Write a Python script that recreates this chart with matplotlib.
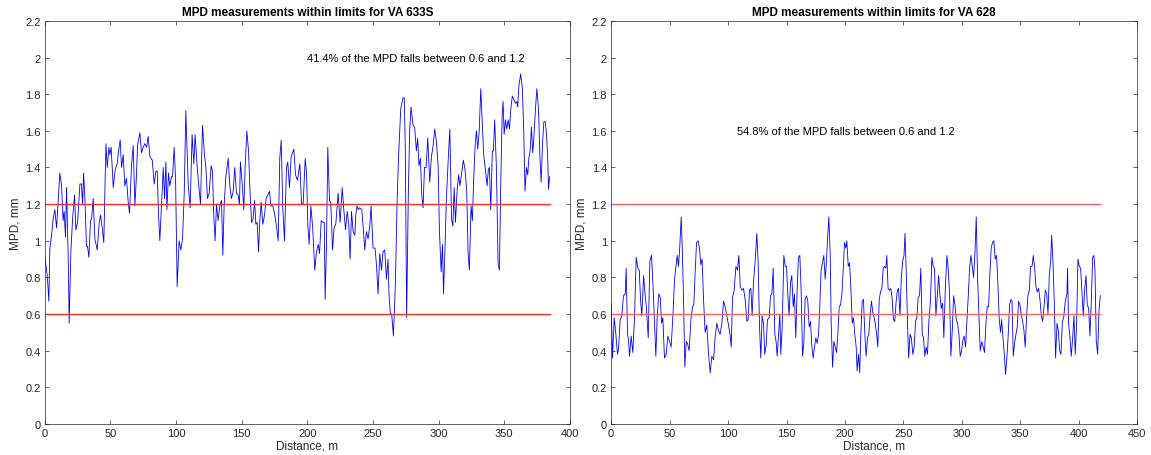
# -*- coding: utf-8 -*-

import matplotlib
matplotlib.use('Agg')
import matplotlib.pyplot as plt

# VA 633S: distance (m) and MPD (mm)
dist_633 = [0, 1.8, 3.0, 3.8, 5.1, 6.3, 7.6, 8.9, 10.2, 11.4, 12.7, 13.9, 14.7, 15.7, 16.5, 17.8, 18.5, 19.8,
            21.1, 22.6, 23.6, 24.9, 26.7, 27.9, 28.7, 29.5, 30.5, 31.7, 32.5, 33.5, 34.8, 35.6, 36.8, 38.1,
            39.9, 41.4, 42.4, 43.7, 44.9, 46.5, 47.5, 48.8, 49.5, 50.5, 52.1, 53.6, 55.1, 56.1, 57.4, 58.4,
            59.7, 60.9, 62.2, 63.5, 64.5, 66.0, 67.3, 68.6, 69.8, 70.6, 72.4, 73.6, 74.9, 76.2, 77.5, 78.7,
            80.0, 81.8, 83.3, 84.6, 85.6, 86.6, 87.6, 89.1, 90.2, 91.2, 92.2, 93.0, 94.2, 95.2, 96.5, 97.3,
            98.5, 99.6, 100.8, 102.3, 103.6, 104.9, 106.2, 107.4, 109.2, 110.7, 112.2, 113.5, 114.5, 116.1,
            117.3, 118.6, 120.1, 121.6, 122.7, 123.9, 125.2, 126.7, 127.7, 128.7, 129.7, 130.8, 132.0, 133.3,
            134.6, 135.6, 136.6, 137.9, 139.7, 140.9, 142.2, 143.5, 144.7, 146.0, 147.2, 148.3, 149.0, 150.4,
            151.6, 152.6, 153.9, 155.2, 156.2, 157.5, 158.7, 159.8, 160.8, 161.8, 162.8, 163.8, 164.8, 166.1,
            167.4, 168.6, 169.9, 171.2, 172.2, 173.7, 175.0, 176.5, 177.8, 179.0, 180.1, 181.3, 182.6, 184.1,
            185.1, 186.4, 187.7, 189.7, 191.0, 192.5, 194.3, 195.6, 196.8, 198.4, 199.4, 200.4, 201.4, 202.7,
            204.0, 205.7, 207.0, 208.3, 209.3, 210.6, 212.1, 212.9, 213.6, 214.6, 215.6, 216.9, 217.9, 219.2,
            220.4, 221.7, 223.5, 225.0, 226.6, 227.8, 229.1, 230.4, 231.6, 232.6, 233.7, 234.9, 236.2, 236.9,
            237.9, 238.9, 239.9, 241.5, 242.5, 243.8, 245.0, 246.3, 247.6, 248.6, 250.1, 251.6, 252.7, 253.9,
            255.2, 256.5, 257.7, 259.0, 260.3, 261.5, 262.3, 263.3, 264.3, 265.6, 267.1, 268.4, 269.6, 271.2,
            272.9, 273.9, 274.7, 275.7, 277.0, 278.0, 279.0, 280.6, 281.8, 283.1, 284.1, 285.1, 286.2, 287.2,
            288.2, 289.3, 290.5, 291.8, 293.3, 294.6, 295.9, 297.1, 298.4, 299.7, 300.7, 302.0, 303.0, 303.8,
            305.0, 306.0, 307.3, 308.6, 309.9, 310.9, 311.9, 312.9, 314.2, 315.3, 316.3, 317.1, 318.9, 320.2,
            321.5, 322.5, 323.5, 324.8, 325.8, 326.8, 327.9, 328.9, 329.9, 331.0, 332.2, 333.2, 334.4, 335.7,
            337.0, 338.0, 338.8, 339.8, 341.0, 341.8, 342.8, 344.1, 345.4, 346.4, 347.4, 348.5, 349.2, 350.0,
            351.0, 352.0, 353.1, 354.1, 355.1, 356.2, 357.4, 358.7, 359.7, 360.3, 361.3, 362.6, 363.9, 364.9,
            365.9, 367.0, 368.0, 368.8, 369.8, 370.8, 371.8, 372.8, 373.8, 374.9, 376.2, 377.2, 378.2, 379.3,
            380.3, 381.3, 382.3, 383.3, 383.8, 384.6]
mpd_633 = [0.91, 0.81, 0.67, 0.96, 1.03, 1.12, 1.17, 1.07, 1.23, 1.37, 1.30, 1.11, 1.16, 1.02, 1.29, 0.90, 0.55, 0.94,
           1.12, 1.25, 1.06, 1.10, 1.31, 1.31, 1.20, 1.37, 1.23, 0.97, 0.97, 0.91, 1.11, 1.12, 1.23, 1.01,
           0.95, 1.10, 1.14, 1.07, 0.99, 1.53, 1.40, 1.51, 1.47, 1.51, 1.29, 1.39, 1.42, 1.49, 1.55, 1.40,
           1.47, 1.30, 1.34, 1.21, 1.15, 1.41, 1.52, 1.19, 1.36, 1.52, 1.59, 1.48, 1.51, 1.53, 1.51, 1.57,
           1.46, 1.44, 1.31, 1.38, 1.38, 1.14, 1.00, 1.23, 1.40, 1.23, 1.43, 1.17, 1.37, 1.30, 1.35, 1.35,
           1.51, 1.34, 0.75, 1.00, 0.95, 1.01, 1.26, 1.71, 1.31, 1.18, 1.58, 1.42, 1.58, 1.40,
           1.30, 1.20, 1.63, 1.47, 1.40, 1.23, 1.26, 1.41, 1.38, 1.14, 1.00, 1.20, 1.11, 1.19,
           1.22, 0.92, 1.19, 1.35, 1.45, 1.30, 1.23, 1.27, 1.40, 1.26, 1.25, 1.20, 1.43, 1.31,
           1.17, 1.40, 1.60, 1.49, 1.29, 1.10, 1.12, 1.22, 1.09, 1.10, 0.94, 1.11, 1.21, 1.09,
           1.14, 1.23, 1.25, 1.27, 1.19, 1.19, 1.15, 1.08, 1.00, 1.45, 1.55, 1.18, 1.00, 1.40,
           1.43, 1.29, 1.46, 1.50, 1.36, 1.33, 1.42, 1.20, 1.20, 1.45, 1.37, 1.08, 0.98, 1.19,
           1.08, 0.84, 0.94, 0.98, 0.93, 1.11, 1.10, 1.10, 0.68, 0.98, 1.51, 1.22, 1.21, 0.95,
           1.07, 1.09, 1.26, 1.10, 1.29, 1.17, 1.06, 1.16, 1.09, 0.90, 1.16, 1.05, 1.03, 1.14,
           1.19, 1.17, 1.18, 1.17, 1.08, 0.95, 1.05, 1.01, 1.08, 1.19, 0.96, 0.96, 0.87, 0.71,
           0.93, 0.84, 0.94, 0.95, 0.79, 0.90, 0.70, 0.60, 0.60, 0.48, 0.76, 1.21, 1.47, 1.72,
           1.78, 1.78, 1.49, 0.58, 1.27, 1.60, 1.73, 1.63, 1.62, 1.49, 1.56, 1.41, 1.45, 1.25,
           1.18, 1.40, 1.40, 1.56, 1.32, 1.46, 1.52, 1.61, 1.54, 1.41, 1.05, 0.83, 0.98, 0.71,
           0.98, 1.23, 1.43, 1.61, 1.12, 1.08, 1.29, 1.10, 1.28, 1.36, 1.30, 1.34, 1.44, 1.39,
           1.27, 0.94, 0.84, 1.19, 1.11, 1.34, 1.52, 1.60, 1.50, 1.60, 1.83, 1.67, 1.47, 1.39,
           1.30, 1.39, 1.40, 1.17, 1.49, 1.49, 1.66, 1.40, 0.87, 0.84, 1.30, 1.69, 1.76, 1.58,
           1.66, 1.61, 1.66, 1.61, 1.72, 1.79, 1.77, 1.75, 1.76, 1.73, 1.85, 1.91, 1.83, 1.61,
           1.27, 1.40, 1.36, 1.45, 1.49, 1.62, 1.48, 1.58, 1.71, 1.83, 1.72, 1.47, 1.32, 1.54,
           1.65, 1.65, 1.58, 1.43, 1.28, 1.35]

# VA 628: distance (m) and MPD (mm)
dist_628 = [0, 1.1, 2.6, 4.0, 5.4, 6.3, 7.7, 9.1, 10.5, 12.0, 12.8, 14.0, 14.8, 15.7, 17.1, 18.5, 20.0, 21.4,
            22.8, 24.0, 25.1, 26.2, 27.7, 29.1, 30.2, 31.7, 33.1, 34.5, 35.9, 37.1, 38.2, 39.4, 40.8, 42.0,
            43.1, 44.2, 45.6, 47.0, 48.5, 49.9, 51.3, 52.8, 54.2, 55.3, 56.5, 57.6, 58.7, 59.9, 61.0, 61.9,
            63.0, 64.2, 65.3, 66.7, 68.2, 69.6, 70.7, 71.8, 73.0, 74.4, 75.5, 76.7, 77.8, 79.0, 80.4, 81.8,
            83.3, 84.7, 86.1, 87.6, 89.0, 90.4, 91.8, 93.2, 94.7, 96.1, 97.5, 98.9, 100.4, 101.8, 102.7, 103.8,
            105.2, 106.7, 108.1, 109.2, 110.4, 111.8, 113.2, 114.6, 116.1, 117.2, 118.3, 119.5, 120.6, 121.7,
            123.2, 124.6, 125.7, 126.9, 128.0, 129.1, 130.3, 131.4, 132.6, 133.7, 135.2, 136.3, 137.5, 138.6,
            140.0, 141.1, 142.0, 143.1, 144.3, 145.1, 146.3, 147.7, 148.9, 150.0, 151.1, 152.2, 153.4, 154.5,
            155.7, 156.8, 157.9, 159.1, 160.2, 161.4, 162.5, 163.7, 164.8, 165.9, 167.1, 168.2, 169.4, 170.5,
            171.6, 172.8, 173.9, 175.1, 176.2, 177.4, 178.5, 179.6, 180.8, 181.9, 183.1, 184.2, 185.1, 186.2,
            187.4, 188.2, 189.4, 190.5, 191.7, 192.8, 193.9, 195.1, 196.2, 197.4, 198.5, 199.6, 200.8, 201.6,
            202.8, 203.9, 205.0, 206.2, 207.3, 208.4, 209.6, 210.4, 211.6, 212.6, 213.6, 214.7, 215.8, 217.0,
            218.1, 219.3, 220.4, 221.6, 222.7, 223.8, 225.0, 226.1, 227.3, 228.1, 229.3, 230.4, 231.6, 232.7,
            233.9, 235.0, 235.8, 236.9, 238.1, 239.2, 240.3, 241.5, 242.6, 243.8, 244.9, 245.8, 247.1, 248.2,
            249.4, 250.5, 251.4, 252.5, 253.7, 254.5, 255.7, 256.8, 258.1, 259.2, 260.4, 261.5, 262.6, 263.8,
            264.9, 266.1, 267.2, 268.3, 269.5, 270.6, 271.8, 273.2, 274.4, 275.5, 276.6, 277.8, 278.9, 280.1,
            281.2, 282.4, 283.5, 284.6, 285.8, 287.2, 288.3, 289.5, 290.6, 291.8, 292.9, 294.1, 295.2, 296.3,
            297.5, 298.6, 299.8, 300.9, 302.0, 303.2, 304.3, 305.5, 306.6, 307.8, 308.9, 310.0, 311.2, 312.3,
            313.5, 314.6, 315.7, 317.1, 318.3, 319.4, 320.6, 321.7, 322.9, 324.0, 325.1, 326.2, 327.4, 328.5,
            329.7, 330.8, 332.0, 333.1, 334.0, 335.1, 336.3, 337.4, 338.6, 339.7, 340.8, 342.0, 342.9, 344.0,
            345.1, 346.3, 347.4, 348.5, 349.7, 350.8, 352.0, 353.1, 354.2, 355.4, 356.5, 357.7, 358.8, 360.0,
            361.1, 362.3, 363.4, 364.5, 365.7, 366.8, 368.0, 369.1, 370.3, 371.4, 372.6, 373.7, 374.8, 376.0,
            376.8, 378.0, 379.1, 380.2, 381.4, 382.5, 383.7, 384.8, 386.0, 387.1, 388.3, 389.4, 389.9, 390.4,
            391.3, 392.4, 393.6, 394.7, 395.9, 397.0, 398.2, 399.3, 400.5, 401.6, 402.8, 403.9, 405.0, 406.2,
            407.3, 408.5, 409.6, 410.7, 411.9, 413.0, 413.9, 415.0, 416.2, 417.3, 418.5]
mpd_628 = [0.66, 0.36, 0.58, 0.49, 0.38, 0.41, 0.57, 0.59, 0.70, 0.71, 0.85, 0.49, 0.46, 0.37, 0.48, 0.39, 0.59, 0.91,
           0.85, 0.84, 0.68, 0.59, 0.81, 0.70, 0.63, 0.47, 0.89, 0.92, 0.74, 0.54, 0.37, 0.59, 0.71, 0.69,
           0.55, 0.58, 0.36, 0.38, 0.48, 0.45, 0.42, 0.59, 0.79, 0.85, 0.92, 0.86, 0.97, 1.13, 0.92, 0.68,
           0.31, 0.45, 0.44, 0.40, 0.57, 0.64, 0.65, 0.82, 0.99, 1.00, 0.96, 0.87, 0.90, 0.68, 0.50, 0.54,
           0.38, 0.28, 0.37, 0.35, 0.48, 0.55, 0.51, 0.49, 0.55, 0.67, 0.64, 0.59, 0.54, 0.48, 0.42, 0.69,
           0.73, 0.86, 0.84, 0.92, 0.75, 0.73, 0.74, 0.68, 0.56, 0.57, 0.73, 0.74, 0.59, 0.77,
           0.89, 1.04, 0.89, 0.53, 0.36, 0.59, 0.55, 0.38, 0.43, 0.57, 0.58, 0.70, 0.71, 0.85,
           0.49, 0.45, 0.37, 0.48, 0.60, 0.38, 0.53, 0.92, 0.86, 0.86, 0.71, 0.59, 0.77, 0.81,
           0.64, 0.71, 0.47, 0.73, 0.91, 0.92, 0.73, 0.37, 0.44, 0.68, 0.70, 0.67, 0.53, 0.56,
           0.43, 0.36, 0.42, 0.47, 0.44, 0.49, 0.65, 0.84, 0.88, 0.92, 0.79, 0.89, 1.01, 1.13,
           0.92, 0.55, 0.31, 0.45, 0.42, 0.39, 0.49, 0.64, 0.65, 0.71, 0.84, 0.99, 0.96, 1.00,
           0.86, 0.88, 0.75, 0.55, 0.58, 0.49, 0.42, 0.29, 0.38, 0.28, 0.49, 0.67, 0.68, 0.49,
           0.37, 0.47, 0.49, 0.60, 0.67, 0.61, 0.58, 0.54, 0.48, 0.42, 0.68, 0.72, 0.74, 0.85,
           0.86, 0.85, 0.92, 0.74, 0.73, 0.74, 0.69, 0.57, 0.56, 0.67, 0.73, 0.74, 0.59, 0.80,
           0.89, 0.92, 1.04, 0.81, 0.51, 0.36, 0.49, 0.47, 0.38, 0.42, 0.56, 0.58, 0.69, 0.70,
           0.85, 0.49, 0.47, 0.37, 0.42, 0.38, 0.56, 0.68, 0.91, 0.86, 0.85, 0.59, 0.69, 0.81,
           0.71, 0.63, 0.66, 0.47, 0.73, 0.92, 0.85, 0.71, 0.37, 0.51, 0.70, 0.65, 0.57, 0.55,
           0.49, 0.37, 0.40, 0.46, 0.48, 0.42, 0.56, 0.70, 0.85, 0.92, 0.86, 0.80, 0.93, 1.13,
           0.79, 0.60, 0.40, 0.45, 0.42, 0.39, 0.55, 0.64, 0.64, 0.82, 0.96, 0.99, 1.00, 0.90,
           0.92, 0.77, 0.57, 0.50, 0.57, 0.48, 0.38, 0.27, 0.37, 0.49, 0.65, 0.68, 0.67, 0.37,
           0.44, 0.49, 0.53, 0.67, 0.65, 0.60, 0.56, 0.51, 0.42, 0.59, 0.70, 0.73, 0.86, 0.86,
           0.92, 0.85, 0.75, 0.72, 0.74, 0.68, 0.59, 0.56, 0.64, 0.73, 0.71, 0.60, 0.81, 0.89,
           1.03, 0.88, 0.66, 0.36, 0.55, 0.51, 0.40, 0.38, 0.56, 0.58, 0.66, 0.70, 0.71, 0.85,
           0.55, 0.48, 0.37, 0.46, 0.59, 0.38, 0.55, 0.90, 0.86, 0.85, 0.71, 0.59, 0.73, 0.81,
           0.65, 0.63, 0.48, 0.66, 0.91, 0.92, 0.84, 0.45, 0.38, 0.62, 0.70]

lower_limit = 0.6
upper_limit = 1.2

titles = ['MPD measurements within limits for VA 633S', 'MPD measurements within limits for VA 628']
notes = ['41.4% of the MPD falls between 0.6 and 1.2', '54.8% of the MPD falls between 0.6 and 1.2']


def style_axes(ax, x_max):
    ax.set_xlim(0, x_max)
    ax.set_ylim(0, 2.2)
    ax.set_yticks([0, 0.2, 0.4, 0.6, 0.8, 1, 1.2, 1.4, 1.6, 1.8, 2, 2.2])
    ax.set_yticklabels(['0', '0.2', '0.4', '0.6', '0.8', '1', '1.2', '1.4', '1.6', '1.8', '2', '2.2'])
    ax.tick_params(direction='in', top=True, right=True, length=3, width=0.5,
                   labelsize=8, colors='#262626', pad=3)
    for s in ax.spines.values():
        s.set_color('#262626')
        s.set_linewidth(0.5)
    ax.set_xlabel('Distance, m', fontsize=8.5, color='#262626', labelpad=1)
    ax.set_ylabel('MPD, mm', fontsize=8.5, color='#262626', labelpad=3)


plt.rcParams['font.family'] = ['Liberation Sans', 'DejaVu Sans']

fig = plt.figure(figsize=(11.51, 4.56), dpi=100)
ax1 = fig.add_axes([0.039, 0.068, 0.456, 0.884])
ax2 = fig.add_axes([0.531, 0.068, 0.457, 0.884])

# left panel
ax1.plot(dist_633, mpd_633, color='#0000ff', linewidth=0.6)
ax1.plot([0, dist_633[-1]], [upper_limit, upper_limit], color='#ff2a2a', linewidth=1.0)
ax1.plot([0, dist_633[-1]], [lower_limit, lower_limit], color='#ff2a2a', linewidth=1.0)
style_axes(ax1, 400)
ax1.set_title(titles[0], fontsize=8.5, fontweight='bold', pad=4)
ax1.text(200, 2.0, notes[0], fontsize=8, va='center', ha='left')

# right panel
ax2.plot(dist_628, mpd_628, color='#0000ff', linewidth=0.6)
ax2.plot([0, dist_628[-1]], [upper_limit, upper_limit], color='#ff6060', linewidth=1.0)
ax2.plot([0, dist_628[-1]], [lower_limit, lower_limit], color='#ff6060', linewidth=1.0)
style_axes(ax2, 450)
ax2.set_title(titles[1], fontsize=8.5, fontweight='bold', pad=4)
ax2.text(108, 1.6, notes[1], fontsize=8, va='center', ha='left')

fig.savefig('out.png', dpi=100)
